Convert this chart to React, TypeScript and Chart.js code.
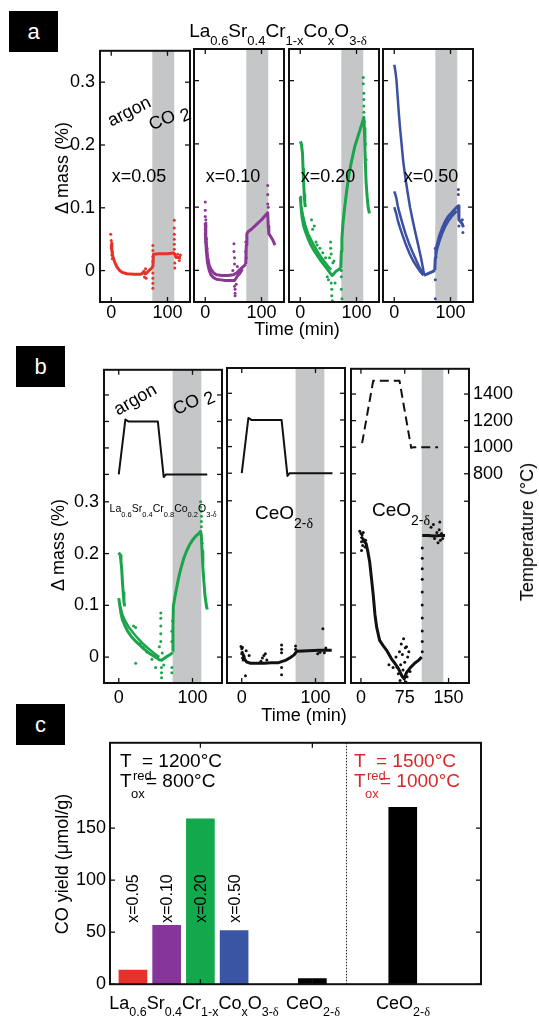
import React, { useEffect, useRef } from 'react';
import { Chart, registerables } from 'chart.js';

Chart.register(...registerables);

type Pt = [number, number];

const FONT = '"Liberation Sans", Arial, Helvetica, sans-serif';
const SERIF = '"Liberation Serif", "Times New Roman", serif';

const RED = '#e5332a';
const PURPLE = '#8a3795';
const GREEN = '#1ba44b';
const BLUE = '#3b4fa3';
const BLACK = '#111111';
const GRAY_BAND = '#c4c6c8';

// ---------------- Panel a ----------------
const aTimeTicks = [0, 100];
const aMassTicks = [0, 0.1, 0.2, 0.3];
const aCo2Window = [73, 112];
const aCompositions = ['x=0.05', 'x=0.10', 'x=0.20', 'x=0.50'];

const redTrace: Pt[] = [[0, 0.042], [1, 0.032], [3, 0.022], [6, 0.014], [10, 0.006], [15, 0.0], [20, -0.003], [28, -0.005], [40, -0.006], [52, -0.006], [56, -0.004], [58, -0.001], [60, -0.005], [63, -0.004], [67, 0.0], [72, 0.004], [74, 0.007], [75, 0.026], [85, 0.027], [100, 0.027], [111, 0.028], [113, 0.026], [115, 0.021], [124, 0.021]];
const redDots: Pt[] = [[-1, 0.058], [0, 0.048], [0, 0.036], [1, 0.044], [1, 0.025], [2, 0.03], [2, 0.019], [59, -0.01], [61, 0.003], [62, -0.012], [74, 0.04], [74, 0.032], [74, 0.022], [74, 0.015], [74, -0.004], [74, -0.012], [74, -0.02], [74, -0.028], [112, 0.08], [112, 0.068], [112, 0.058], [112, 0.05], [112, 0.042], [112, 0.034], [113, 0.012], [113, 0.004], [118, 0.026], [121, 0.016], [123, 0.025]];

const purpleUpper: Pt[] = [[0, 0.075], [1, 0.055], [2, 0.042], [4, 0.022], [7, 0.008], [10, 0.002], [15, -0.004], [20, -0.007], [30, -0.008], [40, -0.008], [50, -0.007], [56, -0.004], [60, 0.0], [65, 0.004], [70, 0.008], [72, 0.01]];
const purpleLower: Pt[] = [[0, 0.06], [2, 0.03], [4, 0.012], [7, 0.0], [10, -0.007], [14, -0.011], [20, -0.014], [28, -0.015], [36, -0.016], [46, -0.016], [52, -0.016], [55, -0.012], [58, -0.008], [62, -0.004], [66, 0.002]];
const purpleCo2: Pt[] = [[72, 0.01], [73, 0.04], [74, 0.058], [76, 0.061], [82, 0.065], [88, 0.07], [94, 0.075], [100, 0.08], [106, 0.086], [111, 0.091], [112, 0.07], [113, 0.058], [116, 0.054], [120, 0.048], [124, 0.04]];
const purpleDots: Pt[] = [[0, 0.108], [0, 0.095], [0, 0.085], [1, 0.08], [1, 0.07], [0, 0.065], [2, 0.05], [1, 0.045], [3, 0.035], [49, 0.0], [51, 0.042], [51, 0.03], [52, 0.02], [52, 0.01], [52, -0.025], [53, -0.03], [53, -0.036], [53, -0.04], [55, -0.022], [57, 0.006], [72, 0.03], [72, 0.045], [73, 0.02], [111, 0.134], [111, 0.12], [111, 0.105], [112, 0.1]];

const greenUpperA: Pt[] = [[0, 0.204], [2, 0.2], [4, 0.185], [5, 0.16], [6, 0.14], [7, 0.12], [8, 0.108], [9, 0.1]];
const greenLowerA: Pt[] = [[0, 0.116], [1, 0.105], [3, 0.085], [6, 0.07], [9, 0.062], [14, 0.05], [19, 0.04], [24, 0.032], [30, 0.024], [36, 0.016], [42, 0.009], [48, 0.002], [53, -0.004], [57, -0.008], [60, -0.005], [64, -0.001], [68, 0.001], [72, 0.004]];
const greenLower2A: Pt[] = [[2, 0.1], [5, 0.086], [9, 0.071], [14, 0.058], [20, 0.047], [26, 0.037], [32, 0.028], [38, 0.02], [44, 0.013], [50, 0.006], [55, 0.001]];
const greenCo2A: Pt[] = [[72, 0.004], [73, 0.03], [74, 0.05], [76, 0.075], [79, 0.1], [82, 0.122], [86, 0.148], [91, 0.172], [97, 0.196], [103, 0.213], [109, 0.23], [113, 0.242], [114, 0.225], [115, 0.19], [116, 0.165], [117, 0.14], [119, 0.115], [121, 0.098], [123, 0.09]];
const greenDotsA: Pt[] = [[20, 0.08], [22, 0.065], [25, 0.07], [28, 0.045], [30, 0.04], [35, 0.035], [40, 0.028], [45, 0.02], [48, -0.01], [50, -0.015], [52, 0.02], [54, 0.045], [54, 0.035], [55, 0.026], [55, -0.02], [56, -0.03], [56, -0.04], [57, -0.048], [58, 0.012], [60, 0.015], [62, -0.02], [73, -0.01], [73, -0.03], [74, -0.045], [73, 0.0], [112, 0.305], [112, 0.295], [113, 0.28], [113, 0.27], [113, 0.26], [113, 0.25], [114, 0.235], [116, 0.2], [117, 0.175]];

const blueUpper: Pt[] = [[0, 0.325], [2, 0.315], [4, 0.3], [6, 0.275], [8, 0.25], [10, 0.228], [13, 0.2], [16, 0.172], [20, 0.145], [24, 0.122], [28, 0.1], [33, 0.078], [38, 0.058], [43, 0.038], [48, 0.018], [53, -0.006]];
const blueMidA: Pt[] = [[0, 0.125], [2, 0.12], [4, 0.113], [6, 0.103], [9, 0.092], [14, 0.076], [20, 0.058], [26, 0.043], [32, 0.03], [38, 0.018], [44, 0.006], [50, -0.003], [53, -0.007]];
const blueMidB: Pt[] = [[0, 0.1], [2, 0.094], [4, 0.088], [6, 0.08], [10, 0.068], [15, 0.055], [21, 0.04], [27, 0.027], [33, 0.016], [40, 0.006], [47, -0.003], [52, -0.008]];
const blueBase: Pt[] = [[53, -0.008], [58, -0.006], [63, -0.004], [68, -0.002], [72, 0.0]];
const blueCo2: Pt[] = [[72, 0.0], [73, 0.02], [74, 0.032], [77, 0.043], [81, 0.056], [86, 0.068], [91, 0.078], [96, 0.085], [101, 0.09], [106, 0.095], [111, 0.1], [114, 0.102], [115, 0.08], [118, 0.077], [121, 0.073], [123, 0.068]];
const blueCo2b: Pt[] = [[74, 0.026], [77, 0.036], [81, 0.048], [86, 0.06], [91, 0.07], [96, 0.078], [101, 0.084], [106, 0.089], [111, 0.094]];
const blueDots: Pt[] = [[73, 0.035], [73, -0.015], [73, -0.045], [114, 0.128], [114, 0.12], [115, 0.07], [122, 0.06], [121, 0.08]];

// ---------------- Panel b ----------------
const bTimeTicks = [0, 100];
const bTimeTicksCe = [0, 75, 150];
const bMassTicks = [0, 0.1, 0.2, 0.3];
const bTempTicks = [800, 1000, 1200, 1400];
const bCo2Window = [73, 112];
const bCo2WindowCe = [104, 141];

const tempB1: Pt[] = [[0, 800], [9, 1215], [13, 1200], [53, 1200], [61, 780], [64, 800], [120, 800]];
const tempB2: Pt[] = [[0, 800], [9, 1215], [13, 1200], [54, 1200], [62, 780], [65, 800], [123, 800]];
const tempB3: Pt[] = [[2, 1030], [21, 1500], [66, 1500], [86, 995], [90, 1000], [132, 1000]];

const gUpperB: Pt[] = [[0, 0.202], [2, 0.197], [3, 0.185], [4, 0.17], [5, 0.145], [6, 0.125], [7, 0.108], [8, 0.098]];
const gLowerB: Pt[] = [[0, 0.114], [1, 0.104], [3, 0.085], [5, 0.072], [8, 0.062], [12, 0.05], [17, 0.04], [22, 0.032], [28, 0.024], [34, 0.016], [40, 0.009], [46, 0.003], [51, -0.001], [55, -0.005], [58, -0.006], [62, -0.002], [66, 0.002], [70, 0.005], [73, 0.009]];
const gLower2B: Pt[] = [[2, 0.098], [5, 0.082], [9, 0.069], [14, 0.057], [20, 0.046], [26, 0.036], [32, 0.027], [38, 0.019], [44, 0.012], [50, 0.005], [55, 0.0]];
const gCo2B: Pt[] = [[73, 0.012], [73.5, 0.06], [74, 0.098], [76, 0.115], [78, 0.13], [81, 0.152], [84, 0.17], [88, 0.19], [92, 0.205], [96, 0.217], [100, 0.226], [104, 0.233], [108, 0.238], [111, 0.243], [112, 0.235], [113, 0.205], [114, 0.175], [115.5, 0.145], [117, 0.118], [119, 0.098], [120, 0.092]];
const gDotsB: Pt[] = [[20, 0.06], [23, 0.057], [23, -0.012], [29, 0.026], [33, 0.019], [38, 0.01], [45, -0.004], [50, -0.02], [55, 0.02], [57, 0.085], [57, 0.075], [57, 0.06], [57, 0.045], [57, 0.03], [58, -0.02], [58, -0.03], [58, -0.04], [59, 0.008], [61, -0.015], [72, -0.02], [72, -0.03], [72, 0.03], [72, 0.05], [73, 0.07], [111, 0.3], [111, 0.29], [112, 0.282], [112, 0.272], [112, 0.262], [112, 0.252], [113, 0.22], [114, 0.19]];

const ceLowTrace: Pt[] = [[0, 0.011], [2, 0.004], [4, -0.005], [7, -0.01], [12, -0.012], [20, -0.012], [30, -0.012], [40, -0.011], [50, -0.011], [54, -0.009], [60, -0.006], [66, -0.001], [71, 0.004], [73, 0.008], [75, 0.011], [90, 0.012], [105, 0.013], [118, 0.013], [122, 0.013]];
const ceLowDots: Pt[] = [[-1, 0.02], [0, 0.016], [0, 0.006], [1, 0.018], [1, -0.002], [2, -0.006], [3, 0.002], [5, -0.036], [6, 0.012], [10, 0.003], [26, -0.008], [28, -0.002], [30, 0.003], [32, 0.006], [34, -0.006], [54, 0.023], [54, 0.015], [54, 0.008], [54, -0.02], [54, -0.034], [73, 0.015], [73, 0.021], [103, 0.006], [106, 0.009], [110, 0.054], [112, 0.008], [114, 0.017]];

const ceHighTrace: Pt[] = [[0, 0.232], [3, 0.228], [6, 0.222], [9, 0.218], [12, 0.202], [15, 0.183], [18, 0.152], [21, 0.12], [24, 0.082], [27, 0.057], [32, 0.032], [38, 0.022], [44, 0.013], [52, -0.003], [58, -0.012], [64, -0.022], [70, -0.036], [74, -0.042], [78, -0.03], [85, -0.02], [92, -0.012], [99, -0.006], [104, 0.0]];
const ceHighFlat: Pt[] = [[105, 0.234], [115, 0.234], [125, 0.233], [135, 0.234], [144, 0.234]];
const ceHighDots: Pt[] = [[-2, 0.242], [0, 0.238], [1, 0.222], [2, 0.235], [3, 0.215], [4, 0.24], [5, 0.226], [7, 0.212], [8, 0.225], [1, 0.205], [48, -0.015], [55, -0.02], [60, 0.0], [62, -0.02], [64, -0.032], [66, 0.01], [67, -0.045], [68, -0.015], [69, 0.025], [70, -0.055], [71, 0.005], [72, -0.025], [73, 0.035], [74, -0.06], [75, -0.01], [76, 0.018], [77, -0.048], [78, 0.02], [79, -0.038], [80, 0.0], [82, 0.01], [84, -0.028], [105, 0.01], [105, 0.03], [105, 0.05], [105, 0.075], [105, 0.1], [105, 0.125], [105, 0.15], [105, 0.17], [105, 0.19], [105, 0.21], [120, 0.25], [124, 0.255], [126, 0.228], [130, 0.24], [132, 0.22], [134, 0.245], [135, 0.26], [136, 0.225], [138, 0.238], [140, 0.228]];

// ---------------- Panel c ----------------
const cYieldTicks = [0, 50, 100, 150];
const cBarPositions = [0.68, 1.68, 2.68, 3.68, 6.0, 8.68];
const cYields = [13.5, 56.5, 159, 51.5, 5.5, 170];
const cBarColors = ['#e8312a', '#86359a', '#12a84b', '#3b55a5', '#000000', '#000000'];
const cBarLabels = ['x=0.05', 'x=0.10', 'x=0.20', 'x=0.50'];
const cXTicks = [2.68, 6.0];
const cDivider = 7.0;

// ---------------- helpers ----------------
const toXY = (pts: Pt[]) => pts.map(([x, y]) => ({ x, y }));

function trace(pts: Pt[], color: string, width = 3, axis = 'y', dash: number[] = []) {
  return {
    data: toXY(pts), showLine: true, borderColor: color, backgroundColor: color,
    borderWidth: width, pointRadius: 0, pointHoverRadius: 0, yAxisID: axis, borderDash: dash,
    borderCapStyle: 'butt', borderJoinStyle: 'round',
  };
}
function dots(pts: Pt[], color: string, r = 1.5) {
  return {
    data: toXY(pts), showLine: false, backgroundColor: color, borderColor: color,
    borderWidth: 0, pointRadius: r, pointHoverRadius: r, yAxisID: 'y',
  };
}

interface AxisSpec { min: number; max: number; ticks: number[]; show: boolean; pad: number }
interface Spec {
  kind: 'scatter' | 'bar';
  left: number; top: number; w: number; h: number;
  pad: [number, number, number, number];
  x: AxisSpec; y: AxisSpec; y2?: AxisSpec;
  band?: number[];
  divider?: number;
  barLabels?: { texts: string[]; positions: number[]; base: number };
  datasets: any[];
}

function axisOpts(pos: string, a: AxisSpec, size: number) {
  const horizontal = pos === 'bottom';
  return {
    type: 'linear', position: pos, min: a.min, max: a.max, offset: false,
    afterBuildTicks: (s: any) => { s.ticks = a.ticks.map((v) => ({ value: v })); },
    afterFit: (s: any) => { if (horizontal) s.height = size; else s.width = size; },
    ticks: {
      display: a.show, color: '#000', font: { family: FONT, size: 18 }, padding: a.pad,
      maxRotation: 0, minRotation: 0, autoSkip: false, callback: (v: number) => String(v),
    },
    grid: { display: false, drawTicks: false, offset: false },
    border: { display: false },
  };
}

function framePlugin(s: Spec) {
  return {
    id: 'frameTicks',
    beforeDatasetsDraw(chart: any) {
      const { ctx, chartArea: ca, scales } = chart;
      ctx.save();
      if (s.band) {
        const x0 = scales.x.getPixelForValue(s.band[0]);
        const x1 = scales.x.getPixelForValue(s.band[1]);
        ctx.fillStyle = GRAY_BAND;
        ctx.fillRect(x0, ca.top, x1 - x0, ca.bottom - ca.top);
      }
      if (s.divider != null) {
        const xd = Math.round(scales.x.getPixelForValue(s.divider)) + 0.5;
        ctx.strokeStyle = '#222';
        ctx.lineWidth = 1;
        ctx.setLineDash([1.5, 1.5]);
        ctx.beginPath(); ctx.moveTo(xd, ca.top); ctx.lineTo(xd, ca.bottom); ctx.stroke();
        ctx.setLineDash([]);
      }
      ctx.restore();
    },
    afterDraw(chart: any) {
      const { ctx, chartArea: ca, scales } = chart;
      ctx.save();
      if (s.barLabels) {
        ctx.fillStyle = '#000';
        ctx.font = `16px ${FONT}`;
        ctx.textAlign = 'left';
        ctx.textBaseline = 'middle';
        s.barLabels.texts.forEach((t, i) => {
          const px = scales.x.getPixelForValue(s.barLabels!.positions[i]);
          const py = scales.y.getPixelForValue(s.barLabels!.base);
          ctx.save(); ctx.translate(px + 1, py); ctx.rotate(-Math.PI / 2); ctx.fillText(t, 0, 0); ctx.restore();
        });
      }
      ctx.strokeStyle = '#111';
      ctx.lineWidth = 1.3;
      const len = 5;
      const seg = (x0: number, y0: number, x1: number, y1: number) => { ctx.beginPath(); ctx.moveTo(x0, y0); ctx.lineTo(x1, y1); ctx.stroke(); };
      for (const v of s.x.ticks) {
        const p = scales.x.getPixelForValue(v);
        seg(p, ca.bottom, p, ca.bottom - len);
        seg(p, ca.top, p, ca.top + len);
      }
      const yAxes: [string, AxisSpec | undefined][] = [['y', s.y], ['y2', s.y2]];
      for (const [id, a] of yAxes) {
        if (!a) continue;
        for (const v of a.ticks) {
          const p = scales[id].getPixelForValue(v);
          seg(ca.left, p, ca.left + len, p);
          seg(ca.right, p, ca.right - len, p);
        }
      }
      ctx.lineWidth = 2;
      ctx.strokeRect(ca.left, ca.top, ca.right - ca.left, ca.bottom - ca.top);
      ctx.restore();
    },
  };
}

function buildChart(canvas: HTMLCanvasElement, s: Spec) {
  const scales: any = {
    x: axisOpts('bottom', s.x, s.pad[3]),
    y: axisOpts('left', s.y, s.pad[0]),
  };
  if (s.y2) scales.y2 = axisOpts('right', s.y2, s.pad[2]);
  return new Chart(canvas, {
    type: s.kind as any,
    data: { datasets: s.datasets },
    options: {
      responsive: false, animation: false, devicePixelRatio: 1, events: [],
      layout: { autoPadding: false, padding: { left: 0, top: s.pad[1], right: s.y2 ? 0 : s.pad[2], bottom: 0 } },
      plugins: { legend: { display: false }, tooltip: { enabled: false }, title: { display: false } },
      scales,
    } as any,
    plugins: [framePlugin(s) as any],
  });
}

function Plot({ spec }: { spec: Spec }) {
  const ref = useRef<HTMLCanvasElement>(null);
  useEffect(() => {
    const chart = buildChart(ref.current!, spec);
    return () => chart.destroy();
  }, []);
  const [pl, pt, pr, pb] = spec.pad;
  const W = spec.w + pl + pr;
  const H = spec.h + pt + pb;
  return (
    <canvas ref={ref} width={W} height={H}
      style={{ position: 'absolute', left: spec.left - pl, top: spec.top - pt, width: W, height: H }} />
  );
}

const Txt = ({ x, y, size = 18, rot = 0, color = '#000', align = 'center', children }: any) => (
  <div style={{
    position: 'absolute', left: x, top: y,
    transform: `translate(${align === 'left' ? '0' : '-50%'}, -50%) rotate(${rot}deg)`,
    fontSize: size, lineHeight: 1, color, fontFamily: FONT, whiteSpace: 'nowrap', zIndex: 5,
  }}>{children}</div>
);
const Sub = ({ size, dy, children }: any) => (
  <span style={{ fontSize: size, position: 'relative', top: dy }}>{children}</span>
);
const Dl = () => <span style={{ fontFamily: SERIF }}>δ</span>;

const LSCCO = ({ sub, dy, cr, co }: any) => (
  <>La<Sub size={sub} dy={dy}>0.6</Sub>Sr<Sub size={sub} dy={dy}>0.4</Sub>Cr<Sub size={sub} dy={dy}>{cr}</Sub>Co<Sub size={sub} dy={dy}>{co}</Sub>O<Sub size={sub} dy={dy}>3-<Dl /></Sub></>
);

const Box = ({ x, y, label }: any) => (
  <div style={{
    position: 'absolute', left: x, top: y, width: 49, height: 41, background: '#000', color: '#fff',
    fontFamily: FONT, fontSize: 22, display: 'flex', alignItems: 'center', justifyContent: 'center',
  }}>{label}</div>
);

export default function App() {
  const aLefts = [100, 194, 289, 383];
  const aSeries = [
    [trace(redTrace, RED), dots(redDots, RED)],
    [trace(purpleUpper, PURPLE), trace(purpleLower, PURPLE), trace(purpleCo2, PURPLE), dots(purpleDots, PURPLE)],
    [trace(greenUpperA, GREEN), trace(greenLowerA, GREEN), trace(greenLower2A, GREEN, 2.5), trace(greenCo2A, GREEN), dots(greenDotsA, GREEN)],
    [trace(blueUpper, BLUE, 2.5), trace(blueMidA, BLUE, 2.5), trace(blueMidB, BLUE, 2.5), trace(blueBase, BLUE), trace(blueCo2, BLUE), trace(blueCo2b, BLUE, 2.5), dots(blueDots, BLUE)],
  ];
  const aSpecs: Spec[] = aLefts.map((left, i) => ({
    kind: 'scatter', left, top: 49, w: 90, h: 253,
    pad: [i === 0 ? 60 : 4, 14, 4, 30],
    x: { min: -20, max: 140, ticks: aTimeTicks, show: true, pad: 0 },
    y: { min: -0.05, max: 0.35, ticks: aMassTicks, show: i === 0, pad: 5 },
    band: aCo2Window,
    datasets: aSeries[i],
  }));

  const bMass = { min: -0.05, max: 0.555, ticks: bMassTicks, pad: 5 };
  const bTemp = { min: -775, max: 1590, ticks: bTempTicks, pad: 4 };
  const bSpecs: Spec[] = [
    {
      kind: 'scatter', left: 104, top: 368, w: 118, h: 315, pad: [60, 14, 4, 30],
      x: { min: -20, max: 140, ticks: bTimeTicks, show: true, pad: 4 },
      y: { ...bMass, show: true }, y2: { ...bTemp, show: false }, band: bCo2Window,
      datasets: [trace(tempB1, BLACK, 2, 'y2'), trace(gUpperB, GREEN), trace(gLowerB, GREEN), trace(gLower2B, GREEN, 2.5), trace(gCo2B, GREEN), dots(gDotsB, GREEN)],
    },
    {
      kind: 'scatter', left: 227, top: 368, w: 118, h: 315, pad: [4, 14, 4, 30],
      x: { min: -20, max: 140, ticks: bTimeTicks, show: true, pad: 4 },
      y: { ...bMass, show: false }, y2: { ...bTemp, show: false }, band: bCo2Window,
      datasets: [trace(tempB2, BLACK, 2, 'y2'), trace(ceLowTrace, BLACK, 3), dots(ceLowDots, BLACK)],
    },
    {
      kind: 'scatter', left: 351, top: 368, w: 118, h: 315, pad: [4, 14, 60, 30],
      x: { min: -17, max: 185, ticks: bTimeTicksCe, show: true, pad: 4 },
      y: { ...bMass, show: false }, y2: { ...bTemp, show: true }, band: bCo2WindowCe,
      datasets: [trace(tempB3, BLACK, 2, 'y2', [9, 5]), trace(ceHighTrace, BLACK, 3), trace(ceHighFlat, BLACK, 3), dots(ceHighDots, BLACK)],
    },
  ];

  const cSpec: Spec = {
    kind: 'bar', left: 110, top: 742, w: 371, h: 243, pad: [60, 14, 4, 14],
    x: { min: 0, max: 11, ticks: cXTicks, show: false, pad: 0 },
    y: { min: 0, max: 232, ticks: cYieldTicks, show: true, pad: 4 },
    divider: cDivider,
    barLabels: { texts: cBarLabels, positions: cBarPositions, base: 59 },
    datasets: [{
      data: cBarPositions.map((x, i) => ({ x, y: cYields[i] })),
      backgroundColor: cBarColors, borderWidth: 0, barThickness: 28,
    }],
  };

  const aLabelCenters = [139, 233, 328, 431];

  return (
    <div style={{ position: 'absolute', left: 0, top: 0, width: 539, height: 1017, background: '#fff', overflow: 'hidden', fontFamily: FONT }}>
      {aSpecs.map((s, i) => <Plot key={'a' + i} spec={s} />)}
      {bSpecs.map((s, i) => <Plot key={'b' + i} spec={s} />)}
      <Plot spec={cSpec} />

      {/* panel labels */}
      <Box x={9} y={11} label="a" />
      <Box x={16} y={346} label="b" />
      <Box x={16} y={704} label="c" />

      {/* panel a text */}
      <Txt x={278} y={30} size={19}><LSCCO sub={13} dy={8} cr="1-x" co="x" /></Txt>
      <Txt x={62} y={168} rot={-90} size={18}>Δ mass (%)</Txt>
      <Txt x={297} y={329} size={18}>Time (min)</Txt>
      <Txt x={129} y={111} rot={-27} size={18}>argon</Txt>
      <Txt x={169} y={117} rot={-22} size={18}>CO <Sub size={18} dy={4}>2</Sub></Txt>
      {aCompositions.map((t, i) => <Txt key={t} x={aLabelCenters[i]} y={176} size={18}>{t}</Txt>)}

      {/* panel b text */}
      <Txt x={135} y={399} rot={-30} size={18}>argon</Txt>
      <Txt x={193} y={401} rot={-25} size={18}>CO <Sub size={18} dy={4}>2</Sub></Txt>
      <Txt x={163} y={508} size={10.5}><LSCCO sub={7.5} dy={5} cr="0.8" co="0.2" /></Txt>
      <Txt x={284} y={512} size={19}>CeO<Sub size={14} dy={9}>2-<Dl /></Sub></Txt>
      <Txt x={401} y={509} size={19}>CeO<Sub size={14} dy={9}>2-<Dl /></Sub></Txt>
      <Txt x={58} y={545} rot={-90} size={18}>Δ mass (%)</Txt>
      <Txt x={527} y={532} rot={-90} size={18}>Temperature (°C)</Txt>
      <Txt x={304} y={715} size={18}>Time (min)</Txt>

      {/* panel c text */}
      <Txt x={62} y={864} rot={-90} size={18}>CO yield (μmol/g)</Txt>
      <Txt x={120} y={760} size={19} align="left">T</Txt>
      <Txt x={142} y={760} size={19} align="left">= 1200°C</Txt>
      <Txt x={133} y={775} size={13} align="left">red</Txt>
      <Txt x={120} y={780} size={19} align="left">T</Txt>
      <Txt x={146} y={780} size={19} align="left">= 800°C</Txt>
      <Txt x={131} y={793} size={13} align="left">ox</Txt>
      <Txt x={354} y={760} size={19} align="left" color="#d42a2a">T</Txt>
      <Txt x={376} y={760} size={19} align="left" color="#d42a2a">= 1500°C</Txt>
      <Txt x={367} y={775} size={13} align="left" color="#d42a2a">red</Txt>
      <Txt x={354} y={780} size={19} align="left" color="#d42a2a">T</Txt>
      <Txt x={380} y={780} size={19} align="left" color="#d42a2a">= 1000°C</Txt>
      <Txt x={365} y={793} size={13} align="left" color="#d42a2a">ox</Txt>
      <Txt x={194} y={1003} size={18}><LSCCO sub={12.5} dy={7} cr="1-x" co="x" /></Txt>
      <Txt x={313} y={1003} size={18}>CeO<Sub size={12.5} dy={7}>2-<Dl /></Sub></Txt>
      <Txt x={403} y={1003} size={18}>CeO<Sub size={12.5} dy={7}>2-<Dl /></Sub></Txt>
    </div>
  );
}
